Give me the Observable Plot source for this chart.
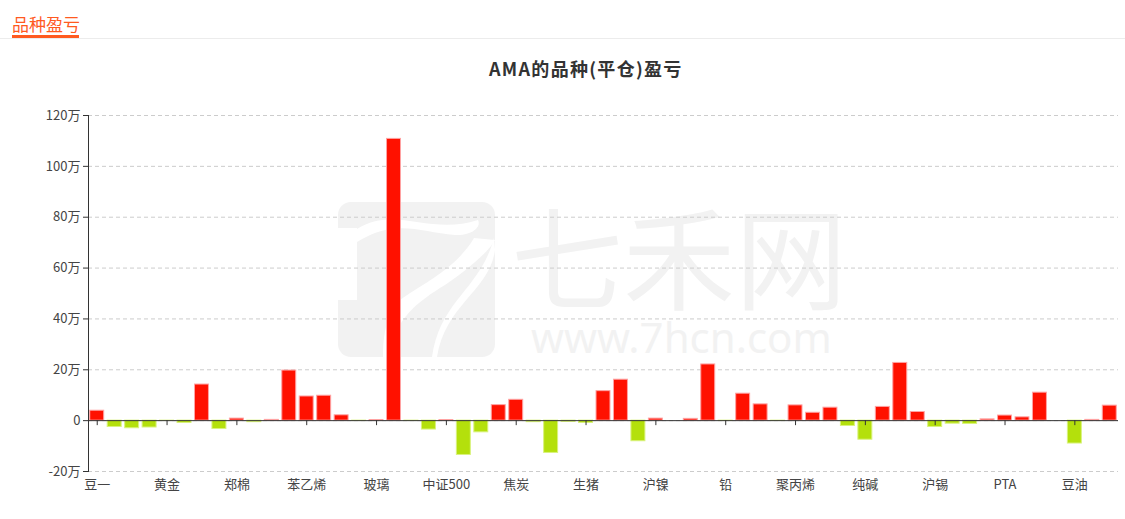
<!DOCTYPE html>
<html>
<head>
<meta charset="utf-8">
<script src="https://cdn.jsdelivr.net/npm/d3@7"></script>
<script src="https://cdn.jsdelivr.net/npm/@observablehq/plot@0.6"></script>
<style>
  html, body { margin: 0; padding: 0; background: #fff; }
  body { width: 1125px; height: 519px; overflow: hidden; font-family: "Noto Sans CJK SC", "Noto Sans", sans-serif; }
  #wrap { position: relative; width: 1125px; height: 519px; }
  #wm { position: absolute; left: 0; top: 0; }
  #header { position: absolute; left: 12px; top: 13px; font-size: 17px; color: #ff5a1f; line-height: 21px; }
  #header-bar { position: absolute; left: 12px; top: 35px; width: 67px; height: 3px; background: #ff5a1f; }
  #header-line { position: absolute; left: 0; top: 38px; width: 1125px; height: 1px; background: #ececec; }
  #title { position: absolute; left: 489px; top: 56px; font-size: 18px; letter-spacing: 1.3px; font-weight: bold; color: #333; line-height: 24px; white-space: nowrap; }
  .wm { position: absolute; color: #f2f2f2; white-space: nowrap; font-family: "Noto Sans CJK SC", sans-serif; line-height: 1; }
  #chart { position: absolute; left: 0; top: 0; }
</style>
</head>
<body>
<div id="wrap">
  <svg id="wm" width="1125" height="519">
    <rect x="338" y="202" width="157" height="155" rx="13" fill="#f2f2f2"></rect>
    <rect x="336" y="228" width="21" height="72" fill="#fff"></rect>
    <path d="M357,229 C395,205 430,236 478,220 C482,228 470,236 455,235 C420,232 395,218 357,242 Z" fill="#fff"></path>
    <path d="M474,238 C455,270 420,285 400,300 C385,315 383,340 383,357 L390,357 C392,320 420,300 445,285 C470,268 490,250 495,240 Z" fill="#fff"></path>
    <path d="M494,238 C480,290 440,300 432,357 L437,357 C445,305 490,290 495,250 Z" fill="#fff"></path>
  </svg>
  <div class="wm" style="left:511px; top:197px; font-size:112px;">七禾网</div>
  <div class="wm" style="left:531px; top:316px; font-size:42px; font-family:'Noto Sans', sans-serif;">www.7hcn.com</div>
  <div id="header">品种盈亏</div>
  <div id="header-bar"></div>
  <div id="header-line"></div>
  <div id="title">AMA的品种(平仓)盈亏</div>
  <div id="chart"></div>
</div>
<script>
// Categories (only every 4th is labelled on the axis)
const categories = [
  "豆一","豆二","豆粕","玉米","黄金","白银","沪铜","沪铝","郑棉","白糖",
  "菜油","棉纱","苯乙烯","甲醇","乙二醇","尿素","玻璃","硅铁","锰硅","沪深300",
  "中证500","上证50","中证1000","焦煤","焦炭","铁矿石","螺纹钢","热卷","生猪","鸡蛋",
  "苹果","红枣","沪镍","沪锌","不锈钢","工业硅","铅","沥青","燃油","橡胶",
  "聚丙烯","聚乙烯","PVC","纸浆","纯碱","短纤","烧碱","氧化铝","沪锡","花生",
  "菜籽","棕榈油","PTA","PX","LPG","原油","豆油","国债","碳酸锂"
];
// Profit / loss, in 万 (10k yuan)
const values = [
  3.9, -2.5, -3.0, -2.7, -0.1, -0.9, 14.2, -3.3, 0.8, -0.6,
  0.3, 19.7, 9.5, 9.8, 2.1, -0.1, 0.2, 110.8, -0.1, -3.5,
  0.2, -13.5, -4.6, 6.1, 8.2, -0.6, -12.7, -0.5, -0.9, 11.6,
  16.1, -8.1, 0.8, 0, 0.7, 22.1, -0.1, 10.6, 6.4, -0.1,
  6.0, 3.1, 5.1, -2.1, -7.5, 5.4, 22.7, 3.4, -2.5, -1.2,
  -1.3, 0.5, 2.0, 1.3, 11.0, 0, -9.0, 0.3, 5.9
];
const yTicks = [-20, 0, 20, 40, 60, 80, 100, 120];
const labelledCats = categories.filter((d, i) => i % 4 === 0);

const data = categories.map((name, i) => ({name, value: values[i]}));
const RED = "#ff1100", GREEN = "#b4e00c";
const RED_S = "#ffa3a3", GREEN_S = "#d9f27d";

const chart = Plot.plot({
  width: 1125,
  height: 519,
  marginTop: 115,
  marginBottom: 48,
  marginLeft: 88,
  marginRight: 7,
  style: {background: "transparent", fontFamily: "'Noto Sans CJK SC', sans-serif", fontSize: "13px", color: "#333"},
  x: {type: "band", domain: categories, paddingInner: 0.2, paddingOuter: 0.1, round: false},
  y: {domain: [-20, 120]},
  marks: [
    Plot.gridY(yTicks, {stroke: "#cccccc", strokeOpacity: 1, strokeDasharray: "4,3"}),
    Plot.barY(data, {
      x: "name", y: "value",
      fill: d => d.value >= 0 ? RED : GREEN,
      stroke: d => d.value >= 0 ? RED_S : GREEN_S,
      strokeWidth: 1
    }),
    Plot.ruleY([0], {stroke: "#333", strokeWidth: 1}),
    Plot.ruleX(labelledCats, {x: d => d, y1: 0, y2: 0, insetTop: 5, stroke: "#333"}),
    Plot.frame({anchor: "left", stroke: "#333"}),
    Plot.axisY(yTicks, {
      tickSize: 5, tickPadding: 3, stroke: "#333",
      tickFormat: d => d === 0 ? "0" : d + "万",
      label: null, fill: "#444", fontSize: 13
    }),
    Plot.axisX(labelledCats, {
      anchor: "bottom", tickSize: 0, tickPadding: 8,
      label: null, fill: "#444", fontSize: 13
    })
  ]
});
document.getElementById("chart").appendChild(chart);
</script>
</body>
</html>
